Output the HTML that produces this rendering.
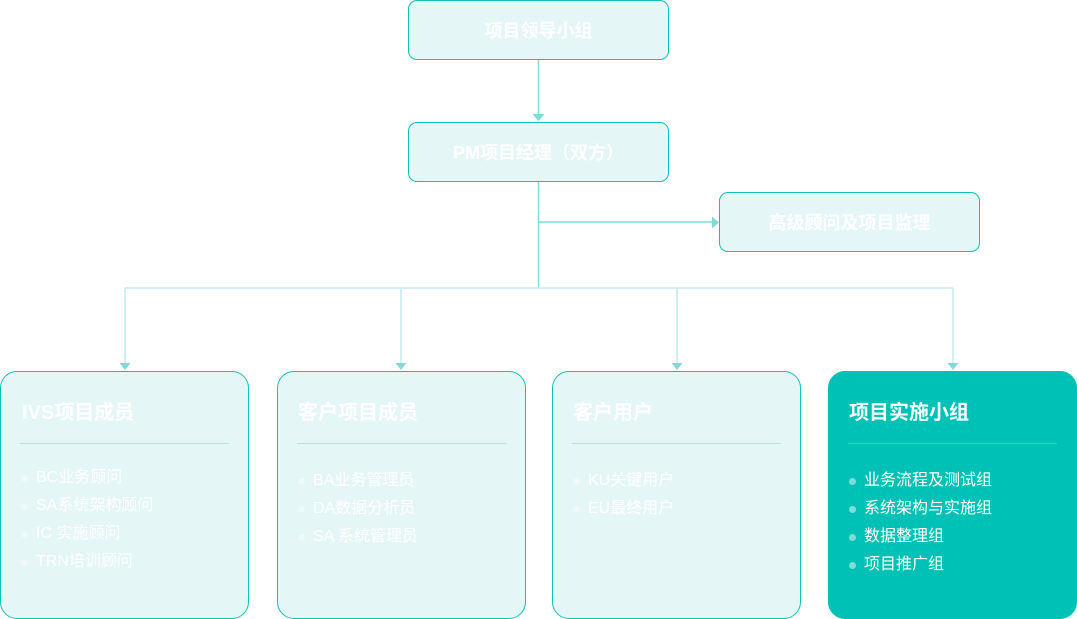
<!DOCTYPE html>
<html><head><meta charset="utf-8">
<style>
html,body{margin:0;padding:0;background:#fff;}
body{width:1077px;height:619px;position:relative;overflow:hidden;font-family:"Liberation Sans","Noto Sans CJK SC",sans-serif;}
.box{position:absolute;box-sizing:border-box;background:#e4f6f5;border:1.5px solid #14c1b6;color:#fff;}
.top{border-radius:9px;display:flex;align-items:center;justify-content:center;font-size:18px;font-weight:bold;}
.card{top:371px;width:249px;height:248px;border-radius:17px;}
.card .t{position:absolute;left:20px;top:27px;font-size:20px;font-weight:bold;line-height:28px;white-space:nowrap;}
.card .d{position:absolute;left:19px;right:19px;top:71px;height:1px;background:#b4e2df;}
.card ul{list-style:none;margin:0;padding:0;position:absolute;left:0;top:95px;}
.card li{position:relative;height:28px;line-height:28px;font-size:16px;padding-left:35px;white-space:nowrap;}
.card li:before{content:"";position:absolute;left:20px;top:11px;width:7px;height:7px;border-radius:50%;background:#eef9f8;}
.dark{background:#00c1b5;border-color:#00c1b5;}
.dark .d{background:#38cfc5;}
.dark li:before{background:#7fdcd6;}
</style></head><body>
<svg width="1077" height="619" style="position:absolute;left:0;top:0">
  <line x1="538.5" y1="59" x2="538.5" y2="115" stroke="#82ddd7" stroke-width="1.5"/>
  <polygon points="532.5,114 544.5,114 538.5,121" fill="#7ddcd5"/>
  <line x1="538.5" y1="182" x2="538.5" y2="288" stroke="#82ddd7" stroke-width="1.5"/>
  <line x1="538.5" y1="222" x2="713" y2="222" stroke="#82ddd7" stroke-width="1.5"/>
  <polygon points="712,216.5 712,228.5 719,222.5" fill="#7ddcd5"/>
  <line x1="125" y1="288" x2="953" y2="288" stroke="#c3ebe8" stroke-width="1.5"/>
  <line x1="125" y1="288" x2="125" y2="364" stroke="#c3ebe8" stroke-width="1.5"/>
  <line x1="401" y1="288" x2="401" y2="364" stroke="#c3ebe8" stroke-width="1.5"/>
  <line x1="677" y1="288" x2="677" y2="364" stroke="#c3ebe8" stroke-width="1.5"/>
  <line x1="953" y1="288" x2="953" y2="364" stroke="#c3ebe8" stroke-width="1.5"/>
  <polygon points="119.5,363 130.5,363 125,370" fill="#7ddcd5"/>
  <polygon points="395.5,363 406.5,363 401,370" fill="#7ddcd5"/>
  <polygon points="671.5,363 682.5,363 677,370" fill="#7ddcd5"/>
  <polygon points="947.5,363 958.5,363 953,370" fill="#7ddcd5"/>
</svg>

<div class="box top" style="left:408px;top:0;width:261px;height:60px;">项目领导小组</div>
<div class="box top" style="left:408px;top:122px;width:261px;height:60px;">PM项目经理（双方）</div>
<div class="box top" style="left:719px;top:192px;width:261px;height:60px;">高级顾问及项目监理</div>

<div class="box card" style="left:0;">
  <div class="t" style="left:21px;">IVS项目成员</div>
  <div class="d" style="left:19px;"></div>
  <ul style="top:92px;"><li>BC业务顾问</li><li>SA系统架构顾问</li><li>IC 实施顾问</li><li>TRN培训顾问</li></ul>
</div>
<div class="box card" style="left:277px;">
  <div class="t">客户项目成员</div>
  <div class="d"></div>
  <ul><li>BA业务管理员</li><li>DA数据分析员</li><li>SA 系统管理员</li></ul>
</div>
<div class="box card" style="left:552px;">
  <div class="t">客户用户</div>
  <div class="d"></div>
  <ul><li>KU关键用户</li><li>EU最终用户</li></ul>
</div>
<div class="box card dark" style="left:828px;">
  <div class="t">项目实施小组</div>
  <div class="d"></div>
  <ul><li>业务流程及测试组</li><li>系统架构与实施组</li><li>数据整理组</li><li>项目推广组</li></ul>
</div>
</body></html>
